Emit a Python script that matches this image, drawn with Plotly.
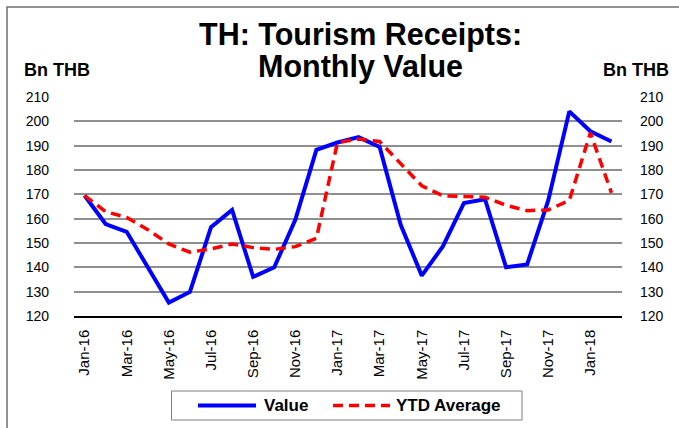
import plotly.graph_objects as go

# Monthly tourism receipts, Bn THB
months = [
    "Jan-16", "Feb-16", "Mar-16", "Apr-16", "May-16", "Jun-16", "Jul-16", "Aug-16",
    "Sep-16", "Oct-16", "Nov-16", "Dec-16", "Jan-17", "Feb-17", "Mar-17", "Apr-17",
    "May-17", "Jun-17", "Jul-17", "Aug-17", "Sep-17", "Oct-17", "Nov-17", "Dec-17",
    "Jan-18", "Feb-18",
]
value = [
    169.5, 157.8, 154.6, 140.2, 125.5, 129.9, 156.5, 163.6, 136.1, 140.0, 159.5, 188.3,
    191.3, 193.5, 189.5, 157.5, 136.6, 148.6, 166.4, 168.0, 140.0, 141.2, 167.5, 204.1,
    195.9, 191.7,
]
ytd_average = [
    169.5, 162.9, 160.5, 155.5, 149.6, 146.2, 147.6, 149.6, 148.1, 147.4, 148.5, 151.9,
    191.3, 192.7, 191.7, 182.5, 173.5, 169.4, 169.0, 168.8, 165.5, 163.3, 163.6, 167.5,
    195.3, 170.6,
]
tick_labels = months[::2]
y_ticks = list(range(120, 211, 10))

W, H = 679, 428
L, R, T, B = 74, 622, 97, 316          # plot area in pixels
FONT = "Liberation Sans, Arial, sans-serif"

VALUE_LINE = dict(color="#0000ff", width=4)
YTD_LINE = dict(color="#ff0000", width=3.5, dash="10px,6px")


def px(x):
    return (x - L) / (R - L)


def py(y):
    return (B - y) / (B - T)


fig = go.Figure()
fig.add_trace(go.Scatter(x=months, y=value, name="Value", mode="lines", line=VALUE_LINE))
fig.add_trace(go.Scatter(x=months, y=ytd_average, name="YTD Average", mode="lines", line=YTD_LINE))
# mirror axis on the right
fig.add_trace(go.Scatter(
    x=months, y=value, yaxis="y2", mode="lines", opacity=0,
    showlegend=False, hoverinfo="skip", line=dict(width=0),
))

fig.update_layout(
    width=W, height=H,
    margin=dict(l=L, r=W - R, t=T, b=H - B),
    paper_bgcolor="white", plot_bgcolor="white",
    font=dict(family=FONT, color="black", size=14),
    showlegend=False,
    xaxis=dict(
        type="category", range=[-0.5, len(months) - 0.5],
        tickmode="array", tickvals=tick_labels, ticktext=tick_labels,
        tickangle=-90, tickfont=dict(size=15), ticks="",
        showgrid=False, showline=True, linecolor="black", linewidth=1.5,
        ticklabelstandoff=6, automargin=False,
    ),
    yaxis=dict(
        range=[120, 210], tickvals=y_ticks, ticks="",
        showgrid=True, gridcolor="#8f8f8f", gridwidth=1.5,
        zeroline=False, showline=False, tickfont=dict(size=14),
        ticklabelstandoff=24, automargin=False,
    ),
    yaxis2=dict(
        range=[120, 210], tickvals=y_ticks, ticks="", overlaying="y", side="right",
        showgrid=False, zeroline=False, showline=False, tickfont=dict(size=14),
        ticklabelstandoff=17, automargin=False,
    ),
)

title_font = dict(family=FONT, size=30.5, color="black", weight="bold")
fig.add_annotation(text="TH: Tourism Receipts:", x=px(360), y=py(35), xref="paper", yref="paper",
                   showarrow=False, xanchor="center", yanchor="middle", font=title_font)
fig.add_annotation(text="Monthly Value", x=px(360), y=py(67), xref="paper", yref="paper",
                   showarrow=False, xanchor="center", yanchor="middle", font=title_font)

unit_font = dict(family=FONT, size=18, color="black", weight="bold")
fig.add_annotation(text="Bn THB", x=px(57), y=py(70), xref="paper", yref="paper",
                   showarrow=False, xanchor="center", yanchor="middle", font=unit_font)
fig.add_annotation(text="Bn THB", x=px(636), y=py(70), xref="paper", yref="paper",
                   showarrow=False, xanchor="center", yanchor="middle", font=unit_font)

# legend box with line samples and labels
legend_font = dict(family=FONT, size=17, color="black", weight="bold")
fig.add_shape(type="rect", xref="paper", yref="paper",
              x0=px(171.5), x1=px(522), y0=py(420), y1=py(391),
              line=dict(color="#7f7f7f", width=1), fillcolor="white")
fig.add_shape(type="line", xref="paper", yref="paper",
              x0=px(198), x1=px(256), y0=py(405.5), y1=py(405.5), line=VALUE_LINE)
fig.add_annotation(text="Value", x=px(262), y=py(405.5), xref="paper", yref="paper",
                   showarrow=False, xanchor="left", yanchor="middle", font=legend_font)
fig.add_shape(type="line", xref="paper", yref="paper",
              x0=px(333), x1=px(390), y0=py(405.5), y1=py(405.5), line=YTD_LINE)
fig.add_annotation(text="YTD Average", x=px(394), y=py(405.5), xref="paper", yref="paper",
                   showarrow=False, xanchor="left", yanchor="middle", font=legend_font)

# chart frame
fig.add_shape(type="rect", xref="paper", yref="paper",
              x0=px(7), x1=px(W + 10), y0=py(H + 10), y1=py(7),
              line=dict(color="#6f6f6f", width=1.5), fillcolor="rgba(0,0,0,0)", layer="below")

fig.write_html("out.html")
